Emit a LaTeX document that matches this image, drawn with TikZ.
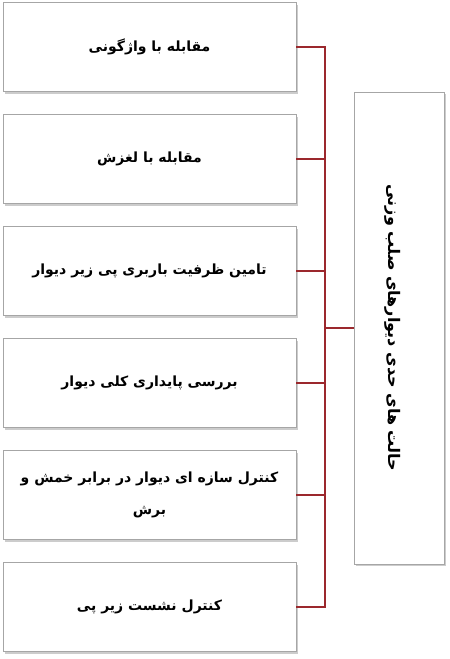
\documentclass[tikz,border=0pt]{standalone}
\usepackage{fontspec}
\newfontfamily\arabicfont[Script=Arabic]{DejaVu Sans}
\TeXXeTstate=1
\usetikzlibrary{shadows}
\definecolor{linkred}{RGB}{155,40,45}
\begin{document}
\begin{tikzpicture}[x=1pt,y=-1pt,
  box/.style={draw=gray!70, line width=0.9pt, fill=white, minimum width=293pt, minimum height=89pt, inner sep=0pt,
    drop shadow={shadow xshift=1.5pt, shadow yshift=-2pt, opacity=0.4, fill=gray}},
  lbl/.style={font=\arabicfont\bfseries\fontsize{14}{32}\selectfont, align=center},
  link/.style={draw=linkred, line width=2pt}]
\useasboundingbox (0,0) rectangle (450,659);
\node[box] (b1) at (149.5,47) {};
\node[box] (b2) at (149.5,159) {};
\node[box] (b3) at (149.5,271) {};
\node[box] (b4) at (149.5,383) {};
\node[box] (b5) at (149.5,495) {};
\node[box] (b6) at (149.5,607) {};
\node[lbl] (t1) at (b1) {\beginR مقابله با واژگونی\endR};
\node[lbl] (t2) at (b2) {\beginR مقابله با لغزش\endR};
\node[lbl] (t3) at (b3) {\beginR تامین ظرفیت باربری پی زیر دیوار\endR};
\node[lbl] (t4) at (b4) {\beginR بررسی پایداری کلی دیوار\endR};
\node[lbl] (t5) at (b5) {\beginR کنترل سازه ای دیوار در برابر خمش و\endR\\\beginR برش\endR};
\node[lbl] (t6) at (b6) {\beginR کنترل نشست زیر پی\endR};
\node[box, minimum width=90pt, minimum height=472pt] (m) at (399,328) {};
\node[lbl, font=\arabicfont\bfseries\fontsize{16}{20}\selectfont, rotate=-90] (tm) at ([xshift=-6pt]m.center) {\beginR حالت های حدی دیوارهای صلب وزنی\endR};
\coordinate (bus) at (325,328);
\foreach \i in {1,...,6} {\draw[link] (b\i.east) -| (bus);}
\draw[link] (bus) -- (m.west);
\end{tikzpicture}
\end{document}
